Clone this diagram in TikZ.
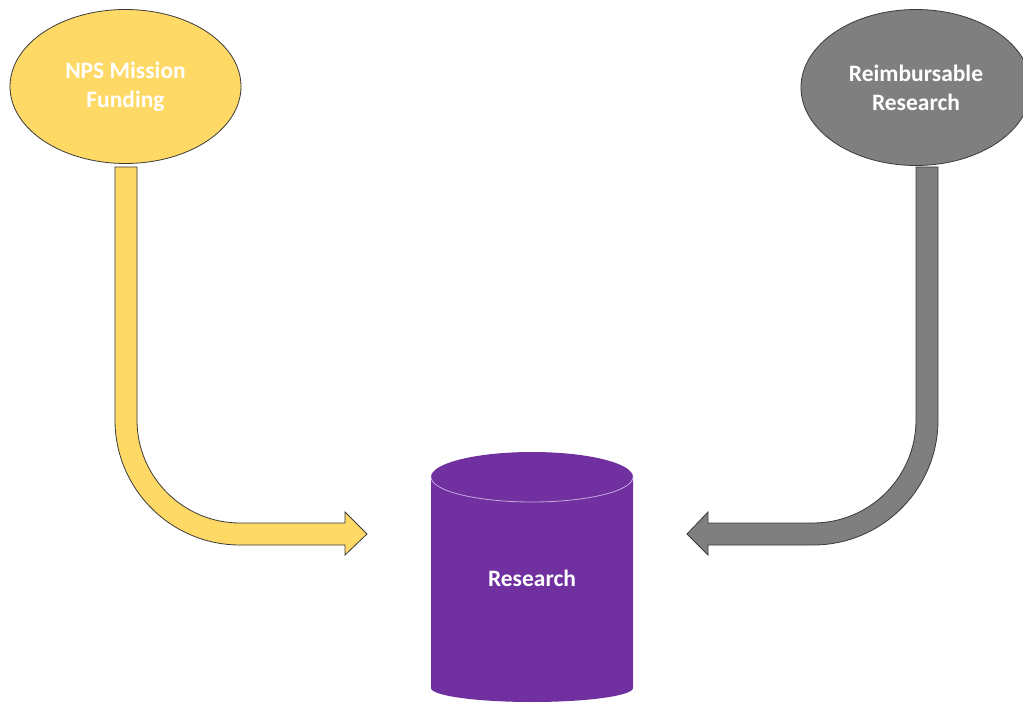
\documentclass[tikz,border=0pt]{standalone}
\usepackage{fontspec}
\setmainfont{Carlito}
\definecolor{gold}{HTML}{FFD966}
\definecolor{greyfill}{HTML}{7F7F7F}
\definecolor{purp}{HTML}{7030A0}
\definecolor{purpedge}{HTML}{C9A8E0}
\definecolor{edge}{HTML}{3A3A3A}
\tikzset{
  x=1pt,y=1pt,
  lbl/.style={text=white,font=\fontsize{23.5}{29}\selectfont\bfseries,align=center},
  oval/.style={ellipse,draw=edge,line width=0.8pt,minimum width=231,minimum height=154,inner sep=0pt},
  blockarrow/.style={draw=edge,line width=0.8pt,line join=miter},
}
\usetikzlibrary{shapes.geometric}
\begin{document}
\begin{tikzpicture}
\useasboundingbox (0,0) rectangle (1023,705);
% ellipses
\node[oval,fill=gold,lbl] (nps) at (125.5,618.5) {NPS Mission\\Funding};
\node[oval,fill=greyfill,lbl,minimum width=230,minimum height=156] (reimb) at (916,617.5) {Reimbursable\\Research};
% cylinder
\fill[purp] (431,228) -- (431,17) arc[start angle=180,end angle=360,x radius=101,y radius=14]
  -- (633,228) arc[start angle=0,end angle=180,x radius=101,y radius=25] -- cycle;
\draw[purpedge,line width=0.8pt] (431,228) arc[start angle=180,end angle=360,x radius=101,y radius=25];
\node[lbl] (res) at (532,127) {Research};
% yellow block arrow
\draw[blockarrow,fill=gold] (115,538) -- (115,285) arc[start angle=180,end angle=270,radius=125]
  -- (345,160) -- (345,150) -- (367,171) -- (345,193) -- (345,182) -- (240,182)
  arc[start angle=270,end angle=180,radius=103] -- (137,538) -- cycle;
% grey block arrow
\draw[blockarrow,fill=greyfill] (938,538) -- (938,285) arc[start angle=0,end angle=-90,radius=125]
  -- (708,160) -- (708,150) -- (687,171) -- (708,193) -- (708,182) -- (813,182)
  arc[start angle=270,end angle=360,radius=103] -- (916,538) -- cycle;
\end{tikzpicture}
\end{document}
